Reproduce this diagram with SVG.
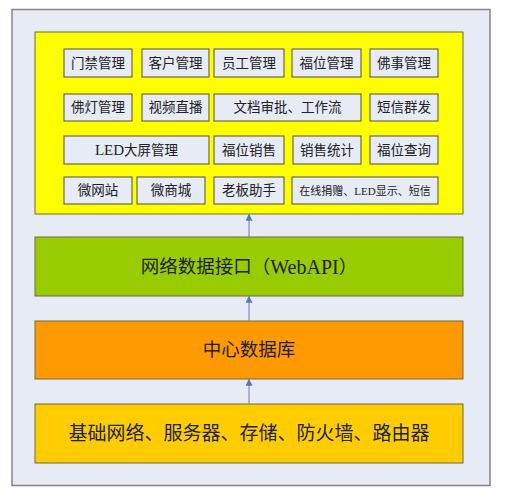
<svg xmlns="http://www.w3.org/2000/svg" width="506" height="500" viewBox="0 0 506 500">
<defs>
<marker id="ah" viewBox="0 0 10 10" refX="9" refY="5" markerWidth="8" markerHeight="7" orient="auto" markerUnits="userSpaceOnUse">
<path d="M0,0 L10,5 L0,10 z" fill="#4a7ebb"/>
</marker>
<style>
.t{font-family:"Liberation Serif","Noto Sans CJK SC",serif;fill:#222222;text-anchor:middle;dominant-baseline:central}
.sb{fill:#e6ebf5;stroke:#6e6a3c;stroke-width:1.2}
.layer{stroke:#6e6a3c;stroke-width:1}
.s{font-size:13.5px}
.big{font-size:18.5px}
.conn{stroke:#7f8fa6;stroke-width:1.2;fill:none}
</style>
</defs>
<rect width="506" height="500" fill="#ffffff"/>
<rect id="frame" x="12" y="9.5" width="478" height="476" fill="#e6ebf5" stroke="#858585" stroke-width="1.5"/>
<g id="app-layer">
<rect class="layer" x="35" y="32" width="428" height="182" fill="#ffff00"/>
</g>
<g id="n1"><rect class="sb" x="64" y="49" width="68" height="28"/><text class="t s" x="98" y="63">门禁管理</text></g>
<g id="n2"><rect class="sb" x="142" y="49" width="67" height="28"/><text class="t s" x="175.5" y="63">客户管理</text></g>
<g id="n3"><rect class="sb" x="214" y="49" width="70" height="28"/><text class="t s" x="249" y="63">员工管理</text></g>
<g id="n4"><rect class="sb" x="292" y="49" width="69" height="28"/><text class="t s" x="326.5" y="63">福位管理</text></g>
<g id="n5"><rect class="sb" x="370" y="49" width="68" height="28"/><text class="t s" x="404" y="63">佛事管理</text></g>
<g id="n6"><rect class="sb" x="64" y="94" width="68" height="27"/><text class="t s" x="98" y="107.5">佛灯管理</text></g>
<g id="n7"><rect class="sb" x="142" y="94" width="67" height="27"/><text class="t s" x="175.5" y="107.5">视频直播</text></g>
<g id="n8"><rect class="sb" x="214" y="94" width="147" height="27"/><text class="t s" x="287.5" y="107.5">文档审批、工作流</text></g>
<g id="n9"><rect class="sb" x="370" y="94" width="68" height="27"/><text class="t s" x="404" y="107.5">短信群发</text></g>
<g id="n10"><rect class="sb" x="64" y="136" width="145" height="28"/><text class="t s" x="136.5" y="150"><tspan style="font-size:15px">LED</tspan>大屏管理</text></g>
<g id="n11"><rect class="sb" x="214" y="136" width="70" height="28"/><text class="t s" x="249" y="150">福位销售</text></g>
<g id="n12"><rect class="sb" x="293" y="136" width="68" height="28"/><text class="t s" x="327" y="150">销售统计</text></g>
<g id="n13"><rect class="sb" x="370" y="136" width="68" height="28"/><text class="t s" x="404" y="150">福位查询</text></g>
<g id="n14"><rect class="sb" x="64" y="177" width="68" height="27"/><text class="t s" x="98" y="190.5">微网站</text></g>
<g id="n15"><rect class="sb" x="137" y="177" width="68" height="27"/><text class="t s" x="171" y="190.5">微商城</text></g>
<g id="n16"><rect class="sb" x="214" y="177" width="70" height="27"/><text class="t s" x="249" y="190.5">老板助手</text></g>
<g id="n17"><rect class="sb" x="292" y="177" width="146" height="27"/><text class="t" style="font-size:11px" x="365" y="190.5">在线捐赠、LED显示、短信</text></g>
<g id="api"><rect class="layer" x="35" y="237" width="428" height="59" fill="#99cc00"/><text class="t big" x="249" y="266.5">网络数据接口（<tspan style="font-size:20px">WebAPI</tspan>）</text></g>
<g id="db"><rect class="layer" x="35" y="321" width="428" height="58" fill="#ff9900"/><text class="t big" x="249" y="350">中心数据库</text></g>
<g id="infra"><rect class="layer" x="35" y="404" width="428" height="59" fill="#ffcc00"/><text class="t" style="font-size:19px" x="249" y="433.5">基础网络、服务器、存储、防火墙、路由器</text></g>
<g id="connectors">
<line class="conn" x1="249" y1="237" x2="249" y2="214.5" marker-end="url(#ah)"/>
<line class="conn" x1="249" y1="321" x2="249" y2="296.5" marker-end="url(#ah)"/>
<line class="conn" x1="249" y1="404" x2="249" y2="379.5" marker-end="url(#ah)"/>
</g>
</svg>
